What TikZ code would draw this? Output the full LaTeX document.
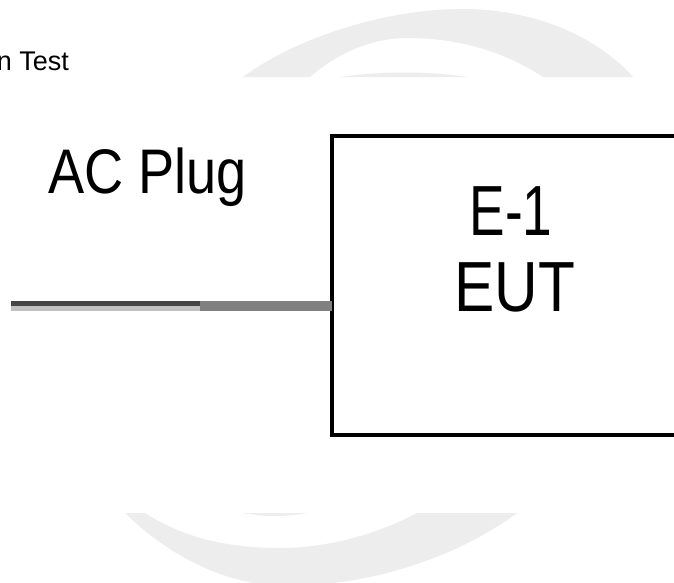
\documentclass[tikz,border=0pt]{standalone}
\usepackage{fontspec}
\usepackage{graphicx}
\setmainfont{Liberation Sans}
\definecolor{wm}{RGB}{237,237,237}
\definecolor{cabledark}{RGB}{68,68,68}
\definecolor{cablelight}{RGB}{192,192,192}
\definecolor{cablemid}{RGB}{128,128,128}
\begin{document}
\begin{tikzpicture}[x=1pt,y=-1pt,
  wmark/.style={fill=wm,draw=none},
  eutbox/.style={draw=black,line width=4pt,rectangle,inner sep=0pt,outer sep=0pt,
     minimum width=420pt,minimum height=299.5pt,anchor=north west},
  lbl/.style={inner sep=0pt,outer sep=0pt,anchor=base,text=black},
  cabletop/.style={line width=5pt,draw=cabledark},
  cablebot/.style={line width=5pt,draw=cablelight},
  cablegray/.style={line width=10pt,draw=cablemid}]
\useasboundingbox (0,0) rectangle (674,582);
\fill[white] (0,0) rectangle (674,582);
% watermark
\fill[wmark] (243,77) .. controls (300,35) and (390,9) .. (462,9) .. controls (540,9) and (600,40) .. (633,77) -- (543,77) .. controls (505,52) and (460,38) .. (407,38) .. controls (370,38) and (335,55) .. (310,77) -- cycle;
\fill[wmark] (340,77) .. controls (380,71) and (430,71) .. (467,77) -- cycle;
\fill[wmark] (125,513) .. controls (175,562) and (235,586) .. (285,586) .. controls (375,586) and (460,555) .. (517,513) -- (417,513) .. controls (370,538) and (320,548) .. (280,548) .. controls (220,548) and (180,535) .. (145,513) -- cycle;
\fill[wmark] (243,513) .. controls (265,517) and (285,517) .. (307,513) -- cycle;
% texts
\node[lbl,anchor=base east] (title) at (69,70) {\fontsize{27}{27}\selectfont n Test};
\node[lbl] (plug) at (147.5,193) {\fontsize{63}{63}\selectfont\scalebox{0.86}[1]{AC Plug}};
% box
\node[eutbox] (eut) at (332,135.5) {};
\node[lbl] (e1) at (511,235) {\fontsize{71}{71}\selectfont\scalebox{0.75}[1]{E-1}};
\node[lbl] (eutlbl) at (515,311) {\fontsize{71}{71}\selectfont\scalebox{0.85}[1]{EUT}};
% cable
\coordinate (cstart) at (11,306);
\coordinate (cmid) at (200,306);
\draw[cabletop] ([yshift=2.5pt]cstart) -- ([yshift=2.5pt]cmid);
\draw[cablebot] ([yshift=-2.5pt]cstart) -- ([yshift=-2.5pt]cmid);
\draw[cablegray] (cmid) -- (cmid -| eut.west);
\end{tikzpicture}
\end{document}
